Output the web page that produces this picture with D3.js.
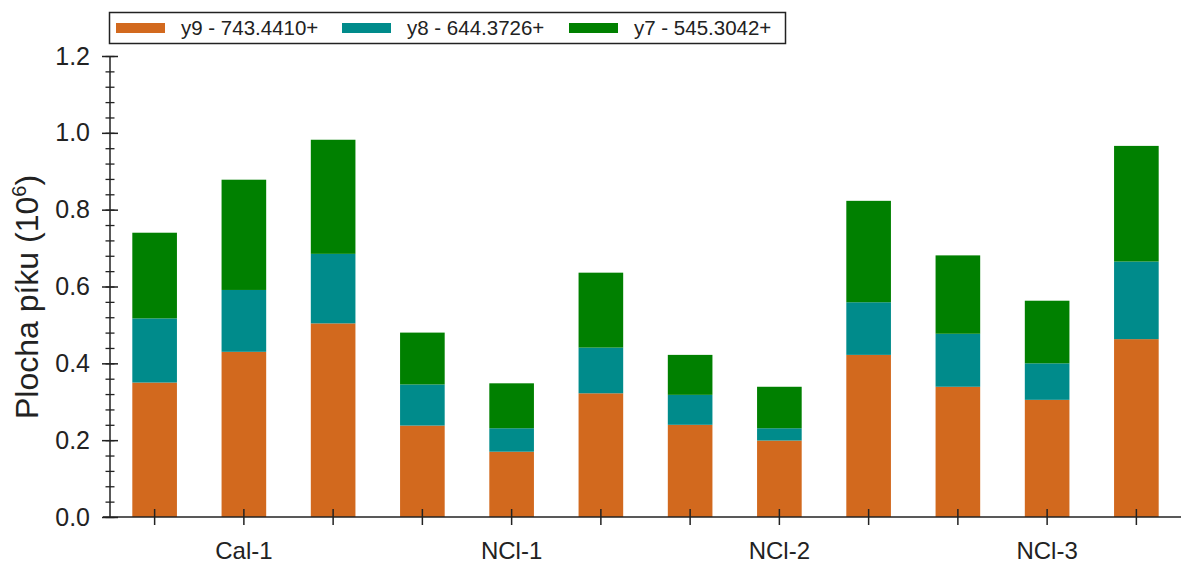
<!DOCTYPE html>
<html>
<head>
<meta charset="utf-8">
<script src="https://cdn.jsdelivr.net/npm/d3@7"></script>
<style>
  html, body { margin: 0; padding: 0; background: #fff; }
  svg { display: block; }
  text { font-family: "Liberation Sans", Arial, sans-serif; fill: #222; }
</style>
</head>
<body>
<svg id="chart" width="1181" height="564"></svg>
<script>
// ---- data ----
const categories = ["1","2","3","4","5","6","7","8","9","10","11","12"];
const tickLabels = ["", "Cal-1", "", "", "NCl-1", "", "", "NCl-2", "", "", "NCl-3", ""];
const seriesNames = ["y9 - 743.4410+", "y8 - 644.3726+", "y7 - 545.3042+"];
const y9 = [0.350, 0.430, 0.504, 0.238, 0.170, 0.322, 0.240, 0.199, 0.422, 0.339, 0.305, 0.463];
const y8 = [0.167, 0.161, 0.181, 0.107, 0.061, 0.119, 0.078, 0.032, 0.137, 0.138, 0.095, 0.202];
const y7 = [0.223, 0.287, 0.297, 0.135, 0.117, 0.195, 0.104, 0.108, 0.264, 0.204, 0.163, 0.301];
const yTicks = [0.0, 0.2, 0.4, 0.6, 0.8, 1.0, 1.2];
const colors = ["#D2691E", "#008B8B", "#008000"];

// ---- layout ----
const svg = d3.select("#chart");
const mLeft = 110, mRight = 1181, mTop = 56, mBottom = 517;

const x = d3.scaleBand().domain(categories).range([mLeft, mRight])
  .paddingInner(0.5).paddingOuter(0.25);
const y = d3.scaleLinear().domain([0, 1.2]).range([mBottom, mTop]);

const rows = categories.map((c, i) => ({ cat: c, s0: y9[i], s1: y8[i], s2: y7[i] }));
const stacked = d3.stack().keys(["s0", "s1", "s2"])(rows);

// bars
svg.append("g").selectAll("g").data(stacked).join("g")
  .attr("fill", (d, i) => colors[i])
  .selectAll("rect").data(d => d).join("rect")
  .attr("x", d => x(d.data.cat))
  .attr("width", x.bandwidth())
  .attr("y", d => y(d[1]))
  .attr("height", d => y(d[0]) - y(d[1]));

// y axis minor ticks
const yAxis = svg.append("g").attr("transform", `translate(${mLeft},0)`);
yAxis.call(d3.axisLeft(y).tickValues(d3.range(0, 1.2001, 0.04)).tickSize(0).tickFormat(""));
yAxis.select(".domain").remove();
yAxis.selectAll(".tick line").attr("x1", -4.5).attr("x2", 4.5).attr("stroke", "#222").attr("stroke-width", 1.3);
yAxis.append("line").attr("x1", 0).attr("x2", 0).attr("y1", y(1.2)).attr("y2", y(0))
  .attr("stroke", "#222").attr("stroke-width", 1.5);
// y axis major ticks
const yMajor = svg.append("g").attr("transform", `translate(${mLeft},0)`)
  .call(d3.axisLeft(y).tickValues(yTicks).tickSize(0).tickPadding(20).tickFormat(d3.format(".1f")));
yMajor.select(".domain").remove();
yMajor.selectAll(".tick line").attr("x1", -8).attr("x2", 8).attr("stroke", "#222").attr("stroke-width", 1.5);
yMajor.selectAll(".tick text").attr("font-size", 25).attr("fill", "#333")
  .style("font-family", "'Liberation Sans', Arial, sans-serif");

// x axis
const xAxis = svg.append("g").attr("transform", `translate(0,${mBottom})`)
  .call(d3.axisBottom(x).tickSize(0).tickPadding(25).tickFormat((d, i) => tickLabels[i]));
xAxis.select(".domain").remove();
xAxis.append("line").attr("x1", mLeft - 7).attr("x2", mRight).attr("y1", 0).attr("y2", 0)
  .attr("stroke", "#222").attr("stroke-width", 1.5);
xAxis.selectAll(".tick line").attr("y1", -8).attr("y2", 8).attr("stroke", "#222").attr("stroke-width", 1.5);
xAxis.selectAll(".tick text").attr("font-size", 24).attr("fill", "#333")
  .style("font-family", "'Liberation Sans', Arial, sans-serif");

// y title
const yt = svg.append("text")
  .attr("transform", `translate(38,297) rotate(-90)`)
  .attr("text-anchor", "middle").attr("font-size", 32).attr("fill", "#333");
yt.append("tspan").text("Plocha píku (10");
yt.append("tspan").attr("dy", -12).attr("font-size", 20).text("6");
yt.append("tspan").attr("dy", 12).text(")");

// legend
const lg = svg.append("g");
lg.append("rect").attr("x", 109.5).attr("y", 12.5).attr("width", 676).attr("height", 31)
  .attr("fill", "#fff").attr("stroke", "#222").attr("stroke-width", 1.5);
const legX = [116, 342, 569];
seriesNames.forEach((n, i) => {
  lg.append("rect").attr("x", legX[i]).attr("y", 23).attr("width", 49).attr("height", 10).attr("fill", colors[i]);
  lg.append("text").attr("x", legX[i] + 65).attr("y", 35).attr("font-size", 20.5).attr("fill", "#333").text(n);
});
</script>
</body>
</html>
